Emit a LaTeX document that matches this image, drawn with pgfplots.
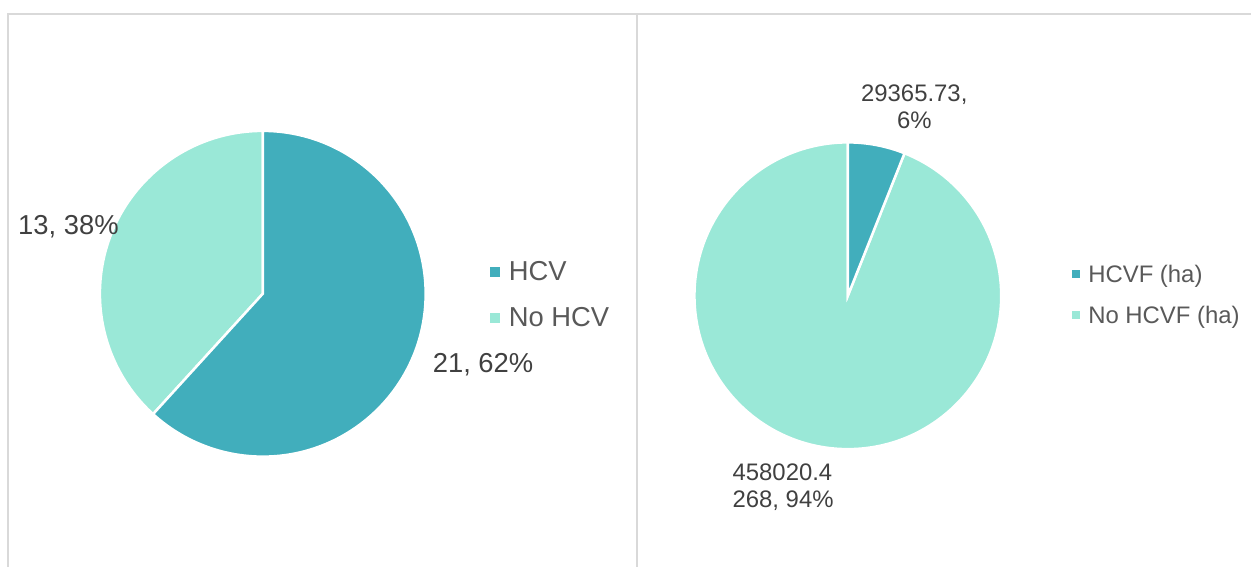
\documentclass[border=0pt]{standalone}
\usepackage{pgfplots}
\pgfplotsset{compat=1.18}
\usepackage{pgfplotstable}
\usepackage{fontspec}
\setmainfont{Liberation Sans}

\definecolor{hcvdark}{HTML}{41AEBC}
\definecolor{hcvlight}{HTML}{9AE8D7}
\definecolor{labelgray}{HTML}{404040}
\definecolor{legendgray}{HTML}{595959}
\definecolor{framegray}{HTML}{D9D9D9}

% count of sites
\pgfplotstableread{
label value
HCV 21
NoHCV 13
}\sitedata

% area in ha
\pgfplotstableread{
label value
HCVF 29365.73
NoHCVF 458020.4268
}\areadata

\pgfplotstablegetelem{0}{value}\of\sitedata \let\siteA\pgfplotsretval
\pgfplotstablegetelem{1}{value}\of\sitedata \let\siteB\pgfplotsretval
\pgfplotstablegetelem{0}{value}\of\areadata \let\areaA\pgfplotsretval
\pgfplotstablegetelem{1}{value}\of\areadata \let\areaB\pgfplotsretval

\edef\angSite{\fpeval{360*\siteA/(\siteA+\siteB)}}
\edef\angArea{\fpeval{360*\areaA/(\areaA+\areaB)}}

\begin{document}
\begin{tikzpicture}
\begin{axis}[
    hide axis,
    scale only axis,
    width=1252bp, height=567bp,
    xmin=0, xmax=1252, ymin=0, ymax=567,
    clip=false
]
\path (axis cs:0,0) rectangle (axis cs:1252,567);

% panel frames
\draw[framegray, line width=2bp] (axis cs:8,0) -- (axis cs:8,553) -- (axis cs:1252,553);
\draw[framegray, line width=2bp] (axis cs:637.5,553) -- (axis cs:637.5,0);

% left pie
\fill[hcvlight, draw=white, line width=2.5bp] (axis cs:263,273) -- ++(90:163)
    arc[start angle=90, end angle=90+360-\angSite, radius=163] -- cycle;
\fill[hcvdark, draw=white, line width=2.5bp] (axis cs:263,273) -- ++(90:163)
    arc[start angle=90, end angle=90-\angSite, radius=163] -- cycle;

\begin{scope}[every node/.style={inner sep=0pt, font=\fontsize{27.5}{32}\selectfont}]
\node[anchor=base west, text=labelgray] at (axis cs:18,332) {13, 38\%};
\node[anchor=base west, text=labelgray] at (axis cs:433,194) {21, 62\%};
\node[anchor=base west, text=legendgray] at (axis cs:509,286) {HCV};
\node[anchor=base west, text=legendgray] at (axis cs:509,240) {No HCV};
\end{scope}
\fill[hcvdark] (axis cs:490,289.5) rectangle (axis cs:500,299.5);
\fill[hcvlight] (axis cs:490,243.5) rectangle (axis cs:500,253.5);

% right pie
\fill[hcvlight, draw=white, line width=2.5bp] (axis cs:848.5,271) -- ++(90:153.5)
    arc[start angle=90, end angle=90+360-\angArea, radius=153.5] -- cycle;
\fill[hcvdark, draw=white, line width=2.5bp] (axis cs:848.5,271) -- ++(90:153.5)
    arc[start angle=90, end angle=90-\angArea, radius=153.5] -- cycle;

\begin{scope}[every node/.style={inner sep=0pt, font=\fontsize{24}{28}\selectfont}]
\node[anchor=base, text=labelgray] at (axis cs:915,465) {29365.73,};
\node[anchor=base, text=labelgray] at (axis cs:915,438) {6\%};
\node[anchor=base west, text=labelgray] at (axis cs:733,86) {458020.4};
\node[anchor=base west, text=labelgray] at (axis cs:733,59) {268, 94\%};
\node[anchor=base west, text=legendgray] at (axis cs:1089,284) {HCVF (ha)};
\node[anchor=base west, text=legendgray] at (axis cs:1089,243) {No HCVF (ha)};
\end{scope}
\fill[hcvdark] (axis cs:1073,288.5) rectangle (axis cs:1081,296.5);
\fill[hcvlight] (axis cs:1073,247.5) rectangle (axis cs:1081,255.5);
\end{axis}
\end{tikzpicture}
\end{document}
